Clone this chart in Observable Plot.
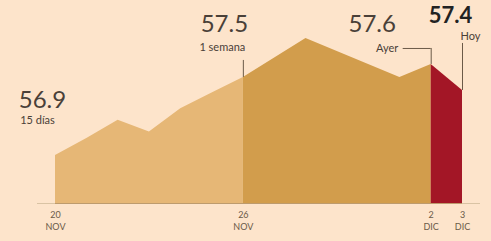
<!DOCTYPE html>
<html>
<head>
<meta charset="utf-8">
<script src="https://cdn.jsdelivr.net/npm/d3@7"></script>
<script src="https://cdn.jsdelivr.net/npm/@observablehq/plot@0.6"></script>
<style>
  html, body { margin: 0; padding: 0; background: #fde4cb; }
  #chart { width: 491px; height: 241px; overflow: hidden; }
</style>
</head>
<body>
<div id="chart"></div>
<script>
// Daily values, 20 Nov – 3 Dic
const days = ["2023-11-20","2023-11-21","2023-11-22","2023-11-23","2023-11-24","2023-11-25","2023-11-26",
              "2023-11-27","2023-11-28","2023-11-29","2023-11-30","2023-12-01","2023-12-02","2023-12-03"];
const values = [56.9, 57.03, 57.17, 57.08, 57.26, 57.38, 57.5, 57.65, 57.8, 57.7, 57.6, 57.5, 57.6, 57.4];

// Segments (period boundaries)
const segStart = ["2023-11-20", "2023-11-26", "2023-12-02"];
const segEnd   = ["2023-11-26", "2023-12-02", "2023-12-03"];
const segColor = ["#e6b776", "#d29d4c", "#a31626"];

// Annotations
const noteDates    = ["2023-11-20", "2023-11-26", "2023-12-02", "2023-12-03"];
const noteValues   = ["56.9", "57.5", "57.6", "57.4"];
const noteCaptions = ["15 días", "1 semana", "Ayer", "Hoy"];

// Tick labels
const tickDates  = ["2023-11-20", "2023-11-26", "2023-12-02", "2023-12-03"];
const tickLabels = ["20\nNOV", "26\nNOV", "2\nDIC", "3\nDIC"];

const data = days.map((d, i) => ({date: new Date(d + "T00:00Z"), value: values[i]}));
const pt = (d) => data.find(p => +p.date === +new Date(d + "T00:00Z"));

const marks = [];
segStart.forEach((s, k) => {
  const a = new Date(s + "T00:00Z"), b = new Date(segEnd[k] + "T00:00Z");
  marks.push(Plot.areaY(data.filter(p => p.date >= a && p.date <= b),
    {x: "date", y1: 56.53, y2: "value", fill: segColor[k]}));
});

// baseline
marks.push(Plot.ruleY([56.53], {stroke: "#d9c3a4", strokeWidth: 1.2, insetLeft: -18, insetRight: -18}));
marks.push(Plot.ruleY([56.53], {stroke: "#b08a55", strokeWidth: 1, strokeOpacity: 0.7}));

// annotation style offsets (presentation only)
const valStyle = [
  {dx: -13, dy: -55, weight: "normal", size: 24},
  {dx: -19, dy: -53, weight: "normal", size: 24},
  {dx: -59, dy: -40, weight: "normal", size: 24},
  {dx: -12, dy: -75, weight: "bold", size: 22}
];
const capStyle = [
  {dx: -18, dy: -35}, {dx: -21, dy: -30}, {dx: -44, dy: -16}, {dx: 8, dy: -54}
];

noteDates.forEach((d, k) => {
  const p = pt(d);
  marks.push(Plot.text([p], {x: "date", y: "value", text: () => noteValues[k],
    dx: valStyle[k].dx, dy: valStyle[k].dy, fontSize: valStyle[k].size, fontWeight: valStyle[k].weight,
    fill: valStyle[k].weight === "bold" ? "#222" : "#4a4038", textAnchor: "middle", lineAnchor: "middle"}));
  marks.push(Plot.text([p], {x: "date", y: "value", text: () => noteCaptions[k],
    dx: capStyle[k].dx, dy: capStyle[k].dy, fontSize: 11, fill: "#4a4038",
    textAnchor: "middle", lineAnchor: "middle"}));
});

// connectors
const c1 = pt(noteDates[1]), c2 = pt(noteDates[2]), c3 = pt(noteDates[3]);
marks.push(Plot.ruleX([c1], {x: "date", y1: "value", y2: "value", insetTop: -17, stroke: "#6b5a48", strokeWidth: 1}));
marks.push(Plot.ruleX([c2], {x: "date", y1: "value", y2: "value", insetTop: -16, stroke: "#6b5a48", strokeWidth: 1}));
marks.push(Plot.ruleY([c2], {y: "value", x1: "date", x2: "date", insetLeft: -28, dy: -16, stroke: "#6b5a48", strokeWidth: 1}));
marks.push(Plot.ruleX([c3], {x: "date", y1: "value", y2: "value", insetTop: -47, stroke: "#6b5a48", strokeWidth: 1}));

// x axis labels
marks.push(Plot.axisX(tickDates.map(d => new Date(d + "T00:00Z")), {
  tickSize: 0, tickPadding: 6, fontSize: 9, fill: "#6a5a48", lineHeight: 1.3,
  tickFormat: (d) => tickLabels[tickDates.findIndex(t => +new Date(t + "T00:00Z") === +d)]
}));

const chart = Plot.plot({
  width: 491,
  height: 241,
  marginLeft: 55,
  marginRight: 29,
  marginTop: 12,
  marginBottom: 38,
  style: {background: "#fde4cb", fontFamily: "Lato, 'Open Sans', sans-serif", overflow: "visible"},
  x: {type: "utc", domain: [new Date("2023-11-20T00:00Z"), new Date("2023-12-03T00:00Z")]},
  y: {domain: [56.53, 58.0], axis: null},
  marks
});
document.getElementById("chart").appendChild(chart);
</script>
</body>
</html>
